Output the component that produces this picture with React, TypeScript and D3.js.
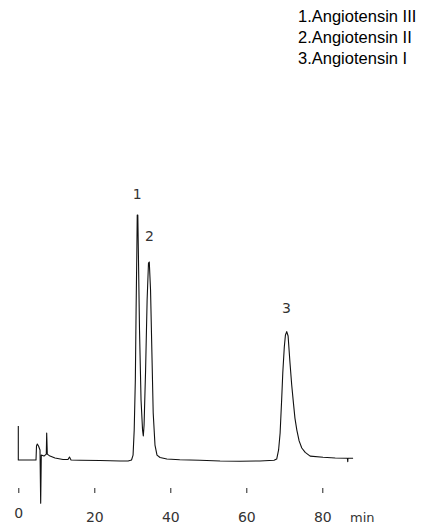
import React, { useEffect, useRef } from 'react';
import * as d3 from 'd3';

// retention time (min) and detector signal (relative units, peak 1 = 100)
const times = [
  0, 0, 4.66, 4.79, 5.0, 5.32, 5.71, 5.89, 6.05, 6.76, 7.37, 7.47, 7.63, 8.34, 9.66, 11.76, 13.08, 13.47, 13.87,
  16.2, 21.5, 26.8, 28.9, 29.8, 30.2, 30.5, 30.8, 31.0, 31.2, 31.3, 31.45, 31.63, 31.9, 32.3, 32.7, 32.9, 33.1,
  33.5, 33.9, 34.26, 34.47, 34.8, 35.2, 35.5, 35.97, 36.5, 37.3, 39.1, 42.5, 47.8, 53.1, 58.3, 63.6, 67.3, 68.0,
  68.5, 68.9, 69.3, 69.6, 70.0, 70.3, 70.64, 71.0, 71.5, 71.95, 72.4, 72.8, 73.3, 73.9, 74.6, 75.5, 76.8, 80.2,
  83.4, 86.6, 86.7, 86.75, 88.1,
];
const signal = [
  13.9, 0, 0, 5.7, 6.5, 5.7, 4.1, -17.6, 2.0, 1.6, 2.4, 11.0, 2.4, 1.6, 0.8, 0.2, 0.2, 1.2, 0,
  -0.1, -0.2, -0.4, -0.4, 0, 2.0, 12.2, 32.7, 61.2, 85.7, 100, 100, 81.6, 53, 24.5, 12.2, 9.8, 14.3,
  36.7, 65.3, 80.4, 80.8, 69.4, 40.8, 19.2, 6.1, 2.0, 1.0, 0.4, 0.1, -0.1, -0.4, -0.5, -0.4, -0.1, 0.4,
  4.1, 11.0, 24.5, 35.5, 46.1, 51.0, 52.4, 50.6, 39.6, 30.6, 23.3, 17.1, 12.2, 7.8, 4.9, 3.1, 1.6, 1.1,
  0.8, 0.7, -0.7, 0.7, 0.7,
];

const tickValues = [0, 20, 40, 60, 80];
const peakLabels = ['1', '2', '3'];
const peakTimes = [31.3, 34.4, 70.6];
const peakHeights = [100, 80.8, 52.4];
const legendItems = ['1.Angiotensin III', '2.Angiotensin II', '3.Angiotensin I'];

const hand = '"DejaVu Sans", sans-serif';

const App: React.FC = () => {
  const ref = useRef(null);
  const W = 422, H = 527;

  useEffect(() => {
    if (!ref.current) return;
    const svg = d3.select(ref.current);
    svg.selectAll('*').remove();

    const x = d3.scaleLinear().domain([0, 80]).range([18.3, 322.3]);
    const y = d3.scaleLinear().domain([0, 100]).range([460, 215]);

    const pts: [number, number][] = times.map((t, i) => [t, signal[i]]);
    const line = d3.line<[number, number]>()
      .x(d => x(d[0]))
      .y(d => y(d[1]))
      .curve(d3.curveLinear);

    svg.append('path')
      .attr('d', line(pts))
      .attr('fill', 'none')
      .attr('stroke', '#111')
      .attr('stroke-width', 1.1)
      .attr('stroke-linejoin', 'round');

    // ticks only, no axis line
    const axis = svg.append('g')
      .attr('transform', 'translate(0,488)')
      .call(d3.axisBottom(x).tickValues(tickValues).tickSize(5).tickFormat(d3.format('d')));
    axis.select('.domain').remove();
    axis.selectAll('.tick line').attr('stroke', '#222').attr('stroke-width', 1);
    axis.selectAll('.tick text')
      .attr('y', 0)
      .attr('dy', (d: any) => (d === 0 ? 30 : 34))
      .attr('fill', '#333')
      .style('font-family', hand)
      .style('font-size', '14px');

    svg.append('text')
      .attr('x', 350)
      .attr('y', 522)
      .attr('fill', '#333')
      .style('font-family', hand)
      .style('font-size', '13px')
      .text('min');

    // peak numbers
    const labelDx = [0, -4, 0];
    const labelDy = [16, 21, 19];
    svg.selectAll('.peak-label')
      .data(peakLabels)
      .enter().append('text')
      .attr('class', 'peak-label')
      .attr('x', (d, i) => x(peakTimes[i]) + labelDx[i])
      .attr('y', (d, i) => y(peakHeights[i]) - labelDy[i])
      .attr('text-anchor', (d, i) => (i === 1 ? 'start' : 'middle'))
      .attr('fill', '#333')
      .style('font-family', hand)
      .style('font-size', '14px')
      .text(d => d);

    // legend
    svg.selectAll('.legend')
      .data(legendItems)
      .enter().append('text')
      .attr('class', 'legend')
      .attr('x', 298)
      .attr('y', (d, i) => 21.5 + i * 21)
      .attr('fill', '#000')
      .style('font-family', '"Liberation Sans", Arial, sans-serif')
      .style('font-size', '16.5px')
      .text(d => d);
  }, []);

  return (
    <svg ref={ref} width={W} height={H} style={{ position: 'absolute', left: 0, top: 0, background: '#fff' }} />
  );
};

export default App;
